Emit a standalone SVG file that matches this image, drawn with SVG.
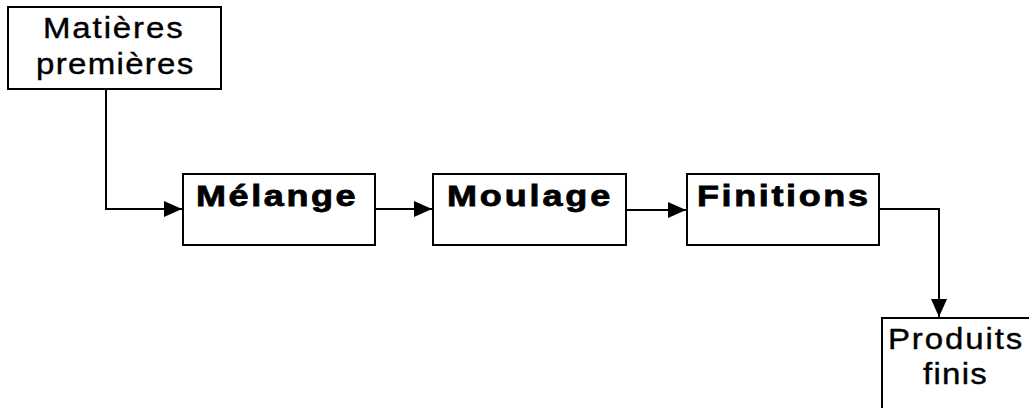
<svg xmlns="http://www.w3.org/2000/svg" width="1029" height="408" viewBox="0 0 1029 408">
<style>
.box{fill:#fff;stroke:#000;stroke-width:2}
.reg{font-family:"Liberation Sans",Arial,sans-serif;font-size:30px;fill:#000;stroke:#000;stroke-width:0.4}
.bold{font-family:"Liberation Sans",Arial,sans-serif;font-size:30px;font-weight:bold;fill:#000;stroke:#000;stroke-width:0.8}
.line{fill:none;stroke:#000;stroke-width:2}
</style>
<defs>
<marker id="arr" viewBox="0 0 18 16" refX="18" refY="8" markerWidth="18" markerHeight="16" markerUnits="userSpaceOnUse" orient="auto">
<path d="M0,0 L18,8 L0,16 Z" fill="#000"/>
</marker>
</defs>
<rect width="1029" height="408" fill="#fff"/>
<g id="matieres">
<rect class="box" x="8" y="7" width="213" height="82"/>
<text class="reg" transform="translate(43,38) scale(1.1,1)" textLength="127" lengthAdjust="spacing">Matières</text>
<text class="reg" transform="translate(36,74) scale(1.1,1)" textLength="143" lengthAdjust="spacing">premières</text>
</g>
<g id="melange">
<rect class="box" x="183" y="174" width="192" height="71"/>
<text class="bold" transform="translate(196,206) scale(1.2,1)" textLength="133" lengthAdjust="spacing">Mélange</text>
</g>
<g id="moulage">
<rect class="box" x="433" y="174" width="193" height="71"/>
<text class="bold" transform="translate(447,206) scale(1.2,1)" textLength="136" lengthAdjust="spacing">Moulage</text>
</g>
<g id="finitions">
<rect class="box" x="687" y="174" width="192" height="71"/>
<text class="bold" transform="translate(697,206) scale(1.2,1)" textLength="142.5" lengthAdjust="spacing">Finitions</text>
</g>
<g id="produits">
<rect class="box" x="882" y="318" width="160" height="110"/>
<text class="reg" transform="translate(888,349) scale(1.1,1)" textLength="122" lengthAdjust="spacing">Produits</text>
<text class="reg" transform="translate(923,384) scale(1.1,1)" textLength="58" lengthAdjust="spacing">finis</text>
</g>
<g id="connectors">
<polyline class="line" points="106,89 106,209 182,209" marker-end="url(#arr)"/>
<line class="line" x1="375" y1="209" x2="432" y2="209" marker-end="url(#arr)"/>
<line class="line" x1="626" y1="210" x2="686" y2="210" marker-end="url(#arr)"/>
<polyline class="line" points="879,209 939,209 939,317" marker-end="url(#arr)"/>
</g>
</svg>
